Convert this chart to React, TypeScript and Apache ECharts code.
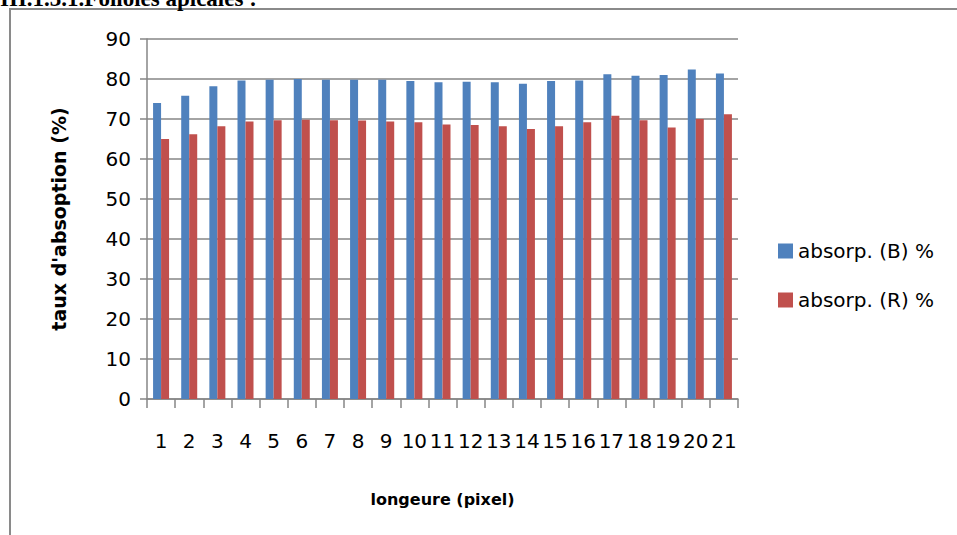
import React, { useEffect, useRef } from "react";
import * as echarts from "echarts";

// Pixel positions along the measured profile
const categories: string[] = [
  "1", "2", "3", "4", "5", "6", "7", "8", "9", "10", "11",
  "12", "13", "14", "15", "16", "17", "18", "19", "20", "21",
];

// Absorption rate of the blue channel (%)
const absorpB: number[] = [
  74.0, 75.8, 78.2, 79.6, 79.8, 80.0, 79.8, 79.8, 79.8, 79.5, 79.2,
  79.3, 79.2, 78.8, 79.5, 79.6, 81.2, 80.8, 81.0, 82.4, 81.4,
];

// Absorption rate of the red channel (%)
const absorpR: number[] = [
  65.0, 66.2, 68.2, 69.4, 69.7, 69.8, 69.7, 69.6, 69.4, 69.2, 68.6,
  68.5, 68.2, 67.5, 68.2, 69.2, 70.8, 69.7, 67.9, 70.0, 71.2,
];

const seriesNames: string[] = ["absorp. (B) %", "absorp. (R) %"];
const yTicks = { min: 0, max: 90, interval: 10 };

const FONT = "'DejaVu Sans', 'Noto Sans', sans-serif";
const GRID_GRAY = "#868686";

export default function App() {
  const ref = useRef<HTMLDivElement>(null);

  useEffect(() => {
    if (!ref.current) return;
    const chart = echarts.init(ref.current, undefined, { renderer: "svg" });
    chart.setOption({
      animation: false,
      backgroundColor: "#ffffff",
      textStyle: { fontFamily: FONT },
      graphic: [
        {
          type: "rect",
          shape: { x: 10, y: 9, width: 1000, height: 600 },
          style: { fill: "none", stroke: "#8a8a8a", lineWidth: 2 },
          silent: true,
        },
        {
          type: "text",
          x: 0,
          y: 10,
          style: {
            text: "III.1.3.1.Folioles apicales :",
            font: "bold 23px 'Liberation Serif', serif",
            fill: "#000",
            verticalAlign: "bottom",
          },
          silent: true,
        },
      ],
      grid: { left: 147, right: 219, top: 39, bottom: 136, containLabel: false },
      legend: {
        orient: "vertical",
        left: 773,
        top: 236,
        itemWidth: 15,
        itemHeight: 15,
        itemGap: 29,
        icon: "rect",
        data: seriesNames,
        textStyle: { fontSize: 20, color: "#000", fontFamily: FONT },
      },
      xAxis: {
        type: "category",
        data: categories,
        boundaryGap: true,
        name: "longeure (pixel)",
        nameLocation: "middle",
        nameGap: 92,
        nameTextStyle: { fontSize: 16, fontWeight: "bold", color: "#000", fontFamily: FONT },
        axisLine: { show: true, lineStyle: { color: GRID_GRAY, width: 1.5 } },
        axisTick: { show: true, interval: 0, length: 9, lineStyle: { color: GRID_GRAY, width: 1.5 } },
        axisLabel: { interval: 0, margin: 32, fontSize: 20, color: "#000", fontFamily: FONT },
      },
      yAxis: {
        type: "value",
        min: yTicks.min,
        max: yTicks.max,
        interval: yTicks.interval,
        name: "taux d'absoption (%)",
        nameLocation: "middle",
        nameGap: 79,
        nameRotate: 90,
        nameTextStyle: { fontSize: 19, fontWeight: "bold", color: "#000", fontFamily: FONT },
        axisLine: { show: true, lineStyle: { color: GRID_GRAY, width: 1.5 } },
        axisTick: { show: true, length: 7, lineStyle: { color: GRID_GRAY, width: 1.5 } },
        axisLabel: { margin: 16, fontSize: 20, color: "#000", fontFamily: FONT },
        splitLine: { show: true, lineStyle: { color: GRID_GRAY, width: 1.5 } },
      },
      series: [
        {
          name: seriesNames[0],
          type: "bar",
          data: absorpB,
          barWidth: 8,
          barGap: "0%",
          itemStyle: { color: "#4F81BD" },
        },
        {
          name: seriesNames[1],
          type: "bar",
          data: absorpR,
          barWidth: 8,
          barGap: "0%",
          itemStyle: { color: "#C0504D" },
        },
      ],
    });
    return () => chart.dispose();
  }, []);

  return (
    <div
      ref={ref}
      style={{ position: "fixed", left: 0, top: 0, width: 957, height: 535 }}
    />
  );
}
